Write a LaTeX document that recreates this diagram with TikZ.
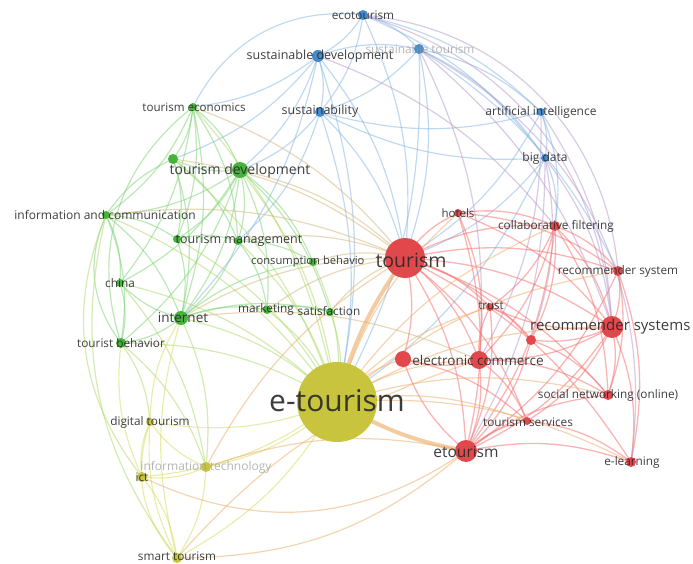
\documentclass[tikz,border=0pt]{standalone}
\usepackage{fontspec}
\setmainfont{Open Sans}
\usetikzlibrary{backgrounds}
\definecolor{bnode}{RGB}{70,140,205}
\definecolor{gnode}{RGB}{70,180,60}
\definecolor{rnode}{RGB}{224,72,76}
\definecolor{ynode}{RGB}{200,196,62}
\definecolor{bline}{RGB}{130,180,228}
\definecolor{gline}{RGB}{120,210,110}
\definecolor{rline}{RGB}{246,118,118}
\definecolor{yline}{RGB}{212,220,90}
\definecolor{oline}{RGB}{236,170,100}
\definecolor{pline}{RGB}{180,150,200}
\definecolor{ygline}{RGB}{170,215,100}
\definecolor{brline}{RGB}{210,180,120}
\definecolor{labc}{RGB}{40,40,40}
\definecolor{fadec}{RGB}{150,150,150}
\begin{document}
\begin{tikzpicture}[x=1pt,y=-1pt,
  dotb/.style={circle,inner sep=0pt,minimum size=#1,fill=bnode},
  dotg/.style={circle,inner sep=0pt,minimum size=#1,fill=gnode},
  dotr/.style={circle,inner sep=0pt,minimum size=#1,fill=rnode},
  doty/.style={circle,inner sep=0pt,minimum size=#1,fill=ynode},
  lab/.style={font=\fontsize{#1}{#1}\selectfont,text=labc,inner sep=0pt,text opacity=0.9},
  fadelab/.style={font=\fontsize{#1}{#1}\selectfont,text=fadec,inner sep=0pt,text opacity=0.7},
  edge/.style={line width=1.2pt,draw opacity=0.5},
  bedge/.style={edge,draw=bline},
  gedge/.style={edge,draw=gline},
  redge/.style={edge,draw=rline,draw opacity=0.55,line width=1.3pt},
  yedge/.style={edge,draw=yline},
  oedge/.style={edge,draw=oline},
  pedge/.style={edge,draw=pline},
  ygedge/.style={edge,draw=ygline},
  bredge/.style={edge,draw=brline},
  thickedge/.style={line width=4pt,draw=oline,draw opacity=0.6}]
\useasboundingbox (0,0) rectangle (693,564);
% blue
\node[dotb=10] (eco) at (363,15) {};
\node[dotb=12] (sd) at (318,56) {};
\node[dotb=10] (st) at (419,49) {};
\node[dotb=10] (sus) at (320,112) {};
\node[dotb=8] (ai) at (541,112) {};
\node[dotb=8] (bd) at (545,158) {};
% green
\node[dotg=8] (te) at (193,107) {};
\node[dotg=10] (g1) at (173,159) {};
\node[dotg=16] (td) at (240,170) {};
\node[dotg=8] (ic) at (106,215) {};
\node[dotg=8] (g2) at (177,239) {};
\node[dotg=8] (tm) at (238,241) {};
\node[dotg=8] (cb) at (313,262) {};
\node[dotg=8] (ch) at (120,283) {};
\node[dotg=14] (inet) at (181,318) {};
\node[dotg=10] (tb) at (121,343) {};
\node[dotg=8] (mk) at (267,310) {};
\node[dotg=8] (sat) at (330,312) {};
% red
\node[dotr=40] (tou) at (405,258) {};
\node[dotr=8] (hot) at (458,213) {};
\node[dotr=10] (cf) at (555,226) {};
\node[dotr=10] (rs1) at (618,271) {};
\node[dotr=8] (tr) at (490,307) {};
\node[dotr=10] (r1) at (531,340) {};
\node[dotr=22] (rs) at (612,327) {};
\node[dotr=18] (ec) at (479,360) {};
\node[dotr=16] (r2) at (403,359) {};
\node[dotr=10] (sn) at (608,395) {};
\node[dotr=8] (ts) at (527,421) {};
\node[dotr=22] (et) at (466,451) {};
\node[dotr=10] (el) at (631,462) {};
% yellow
\node[doty=80] (etou) at (337,402) {};
\node[doty=8] (dt) at (150,422) {};
\node[doty=10] (it) at (206,467) {};
\node[doty=10] (ict) at (142,477) {};
\node[doty=10] (smt) at (177,558) {};
\begin{scope}[on background layer]
\foreach \a/\b in {eco/sd,eco/st,eco/sus,eco/tou,sd/st,sd/sus,sd/td,sd/te,sd/tou,sd/etou,st/sus,st/tou,st/ai,st/bd,sus/td,sus/etou,sus/tou,ai/bd,ai/sus,ai/tou,ai/cf,bd/cf,bd/tou,bd/etou,bd/sus,sd/g1,st/etou,eco/bd,st/rs1,sd/inet,sus/tm,eco/ai}
  \draw[bedge] (\a.center) to[bend left=15] (\b.center);
\foreach \a/\b in {ai/rs,bd/rs,st/rs,bd/et,ai/ec,st/ec,sd/cf,bd/r1}
  \draw[pedge] (\a.center) to[bend left=15] (\b.center);
\foreach \a/\b in {te/td,te/g1,te/ic,te/inet,te/tm,te/ch,te/g2,td/g1,td/ic,td/g2,td/tm,td/inet,td/cb,td/mk,td/ch,td/tb,ic/inet,ic/ch,ic/tb,ic/g1,ic/g2,g1/g2,g1/inet,g2/inet,tm/inet,tm/mk,inet/tb,inet/ch,inet/mk,inet/sat,inet/cb,ch/tb,mk/sat,g2/tm,tm/cb,g1/tm,td/sat}
  \draw[gedge] (\a.center) to[bend left=15] (\b.center);
\foreach \a/\b in {te/etou,td/etou,ic/etou,tm/etou,inet/etou,ch/etou,tb/etou,mk/etou,sat/etou,cb/etou,g2/etou,tb/dt,inet/it,tb/it,ch/it,g1/etou}
  \draw[ygedge] (\a.center) to[bend left=15] (\b.center);
\foreach \a/\b in {td/tou,te/tou,ic/tou,tm/tou,inet/tou,mk/tou,sat/tou,cb/tou,g1/tou,inet/ec}
  \draw[bredge] (\a.center) to[bend left=15] (\b.center);
\foreach \a/\b in {tou/hot,tou/cf,tou/rs1,tou/tr,tou/rs,tou/ec,tou/r2,tou/et,tou/ts,tou/sn,tou/el,tou/r1,hot/cf,hot/rs,hot/ec,hot/et,cf/rs1,cf/rs,cf/tr,cf/r1,cf/ec,cf/et,rs1/rs,rs1/et,rs1/sn,rs1/el,rs/tr,rs/r1,rs/ec,rs/et,rs/sn,rs/el,rs/ts,ec/et,ec/r2,ec/tr,ec/ts,ec/sn,et/ts,et/el,et/sn,et/r2,r2/ts,ts/el,tr/et,r1/et,hot/rs1,cf/sn,r1/sn,tr/r1}
  \draw[redge] (\a.center) to[bend left=15] (\b.center);
\foreach \a/\b in {etou/dt,etou/it,etou/ict,etou/smt,it/ict,it/smt,it/dt,ict/smt,ict/dt,smt/dt,smt/inet,dt/inet,ict/tb}
  \draw[yedge] (\a.center) to[bend left=15] (\b.center);
\foreach \a/\b in {etou/ec,etou/r2,etou/rs,etou/sn,etou/ts,etou/el,etou/tr,etou/hot,etou/cf,it/tou,etou/rs1,smt/ec,it/et}
  \draw[oedge] (\a.center) to[bend left=15] (\b.center);
% outer arcs
\draw[bedge] (eco.center) to[bend right=35] (te.center);
\draw[pedge] (eco.center) to[bend left=40] (rs1.center);
\draw[pedge] (st.center) to[bend left=35] (el.center);
\draw[pedge] (eco.center) to[bend left=35] (rs.center);
\draw[gedge] (te.center) to[bend right=35] (tb.center);
\draw[gedge] (ic.center) to[bend right=30] (tb.center);
\draw[ygedge] (ic.center) to[bend right=30] (ict.center);
\draw[ygedge] (ic.center) to[bend right=25] (smt.center);
\draw[yedge] (dt.center) to[bend right=30] (smt.center);
\draw[oedge] (ict.center) to[bend right=30] (et.center);
\draw[oedge] (smt.center) to[bend right=20] (et.center);
\draw[thickedge] (etou.center) to[bend left=10] (tou.center);
\draw[thickedge] (etou.center) to[bend right=10] (et.center);
\end{scope}
% labels
\node[lab=11.8] (Leco) at (363,15) {ecotourism};
\node[lab=12.5] (Lsd) at (320,56) {sustainable development};
\node[fadelab=11.8] (Lst) at (420,49) {sustainable tourism};
\node[lab=12.5] (Lsus) at (320,111) {sustainability};
\node[lab=12] (Lai) at (541,112) {artificial intelligence};
\node[lab=12] (Lbd) at (545,158) {big data};
\node[lab=11.6] (Lte) at (194,107) {tourism economics};
\node[lab=14] (Ltd) at (240,171) {tourism development};
\node[lab=12] (Lic) at (105,215) {information and communication};
\node[lab=12.5] (Ltm) at (239,240) {tourism management};
\node[lab=11.2,anchor=west] (Lcb) at (251,262) {consumption behavio};
\node[lab=11.8] (Lch) at (120,283) {china};
\node[lab=13.5] (Linet) at (183,318) {internet};
\node[lab=11.8] (Ltb) at (121,343) {tourist behavior};
\node[lab=11.8] (Lmk) at (266,309) {marketing};
\node[lab=11.8] (Lsat) at (329,311) {satisfaction};
\node[lab=19.5] (Ltou) at (411,260) {tourism};
\node[lab=11.5] (Lhot) at (458,213) {hotels};
\node[lab=11.8] (Lcf) at (556,226) {collaborative filtering};
\node[lab=11.8] (Lrs1) at (618,271) {recommender system};
\node[lab=11.5] (Ltr) at (491,306) {trust};
\node[lab=15,anchor=west] (Lrs) at (530,327) {recommender systems};
\node[lab=13.5] (Lec) at (478,360) {electronic commerce};
\node[lab=11.8] (Lsn) at (608,395) {social networking (online)};
\node[lab=11.8] (Lts) at (528,422) {tourism services};
\node[lab=15.5] (Let) at (466,452) {etourism};
\node[lab=11.8] (Lel) at (632,462) {e-learning};
\node[lab=30] (Letou) at (337,401) {e-tourism};
\node[lab=11.8] (Ldt) at (150,422) {digital tourism};
\node[fadelab=12] (Lit) at (206,467) {information technology};
\node[lab=11.8] (Lict) at (142,477) {ict};
\node[lab=11.8] (Lsmt) at (177,556) {smart tourism};
\end{tikzpicture}
\end{document}
